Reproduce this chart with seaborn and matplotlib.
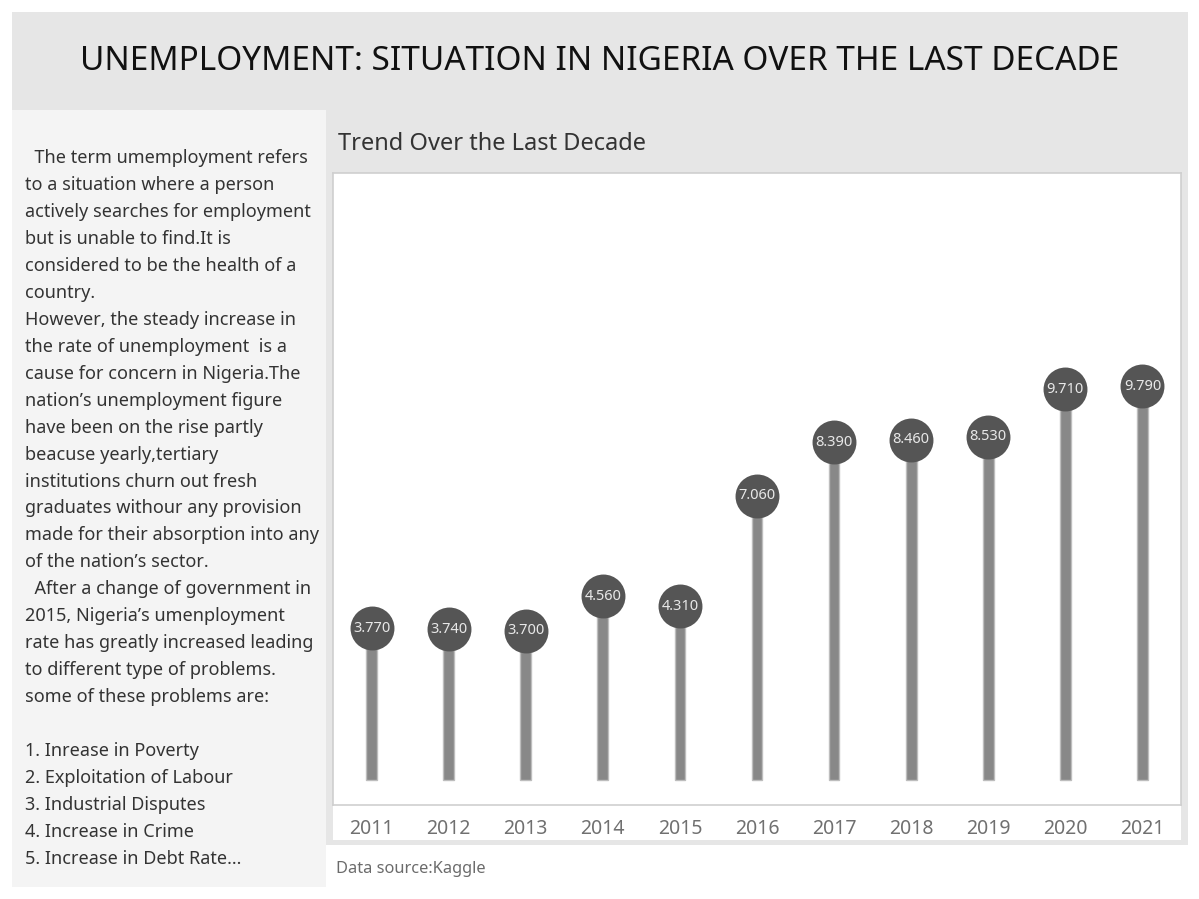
import numpy as np
import matplotlib.pyplot as plt
import seaborn as sns
import pandas as pd
from matplotlib.patches import Rectangle

# data
years = ['2011', '2012', '2013', '2014', '2015', '2016', '2017', '2018', '2019', '2020', '2021']
rates = [3.77, 3.74, 3.70, 4.56, 4.31, 7.06, 8.39, 8.46, 8.53, 9.71, 9.79]

title = 'UNEMPLOYMENT: SITUATION IN NIGERIA OVER THE LAST DECADE'
subtitle = 'Trend Over the Last Decade'
source = 'Data source:Kaggle'
story = [
    '  The term umemployment refers',
    'to a situation where a person',
    'actively searches for employment',
    'but is unable to find.It is',
    'considered to be the health of a',
    'country.',
    'However, the steady increase in',
    'the rate of unemployment  is a',
    'cause for concern in Nigeria.The',
    'nation\u2019s unemployment figure',
    'have been on the rise partly',
    'beacuse yearly,tertiary',
    'institutions churn out fresh',
    'graduates withour any provision',
    'made for their absorption into any',
    'of the nation\u2019s sector.',
    '  After a change of government in',
    '2015, Nigeria\u2019s umenployment',
    'rate has greatly increased leading',
    'to different type of problems.',
    'some of these problems are:',
    '',
    '1. Inrease in Poverty',
    '2. Exploitation of Labour',
    '3. Industrial Disputes',
    '4. Increase in Crime',
    '5. Increase in Debt Rate...',
]

df = pd.DataFrame({'year': years, 'rate': rates})
df['pos'] = np.arange(len(years))

sns.set_theme(style='white')
plt.rcParams['font.family'] = ['Noto Sans', 'DejaVu Sans']

W, H = 1199, 899
fig = plt.figure(figsize=(W / 100, H / 100), dpi=100)
fig.patch.set_facecolor('white')


def box(x0, y0, x1, y1, color):
    # pixel coords, origin top-left
    fig.patches.append(Rectangle((x0 / W, 1 - y1 / H), (x1 - x0) / W, (y1 - y0) / H,
                                 transform=fig.transFigure, facecolor=color,
                                 edgecolor='none', zorder=-5))


box(12, 12, 1188, 110, '#e6e6e6')     # title band
box(12, 110, 326, 887, '#f4f4f4')     # text panel
box(326, 110, 1188, 845, '#e6e6e6')   # chart panel
box(333, 805, 1181, 840, 'white')     # tick label strip

fig.text(600 / W, 1 - 62 / H, title, ha='center', va='center', fontsize=24, color='#111111')
fig.text(338 / W, 1 - 144 / H, subtitle, ha='left', va='center', fontsize=17, color='#333333')
fig.text(336 / W, 1 - 869 / H, source, ha='left', va='center', fontsize=11.8, color='#6b6b6b')

for i, line in enumerate(story):
    fig.text(25 / W, 1 - (158 + i * 26.96) / H, line, ha='left', va='center',
             fontsize=13, color='#333333')

ax = fig.add_axes([333 / W, 1 - 805 / H, (1181 - 333) / W, (805 - 173) / H])
ax.set_facecolor('white')

sns.barplot(data=df, x='year', y='rate', ax=ax, width=0.14, color='#888888',
            saturation=1, edgecolor='#bdbdbd', linewidth=1)
sns.scatterplot(data=df, x='pos', y='rate', ax=ax, s=1000, color='#555555',
                edgecolor='#555555', linewidth=0, zorder=3, legend=False)
for p, r in zip(df['pos'], df['rate']):
    ax.text(p, r, f'{r:.3f}', ha='center', va='center', fontsize=10.5,
            color='#e8e8e8', zorder=4)

ax.set_xlim(-0.5, len(years) - 0.5)
ax.set_ylim(-0.63, 15.09)
ax.set_yticks([])
ax.set_xlabel('')
ax.set_ylabel('')
ax.tick_params(axis='x', length=0, pad=10, labelsize=14, labelcolor='#707070')
for s in ax.spines.values():
    s.set_color('#cfcfcf')
    s.set_linewidth(1.2)

fig.savefig('out.png', dpi=100)
